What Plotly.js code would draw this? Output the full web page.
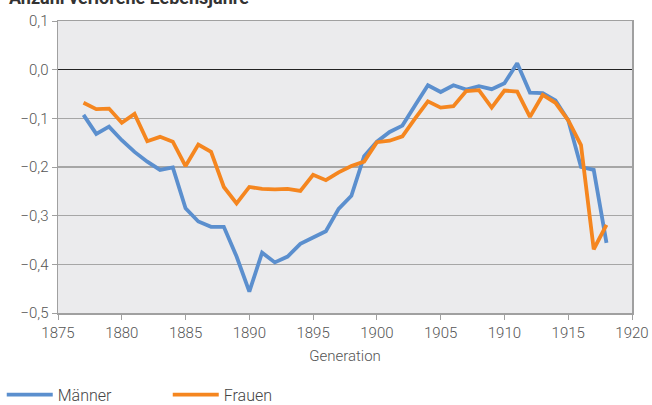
<!DOCTYPE html>
<html>
<head>
<meta charset="utf-8">
<script src="https://cdn.plot.ly/plotly-3.0.1.min.js"></script>
<style>html,body{margin:0;padding:0;background:#fff;}#chart{width:652px;height:405px;}</style>
</head>
<body>
<div id="chart"></div>
<script>
const years = [1877,1878,1879,1880,1881,1882,1883,1884,1885,1886,1887,1888,1889,1890,1891,1892,1893,1894,1895,1896,1897,1898,1899,1900,1901,1902,1903,1904,1905,1906,1907,1908,1909,1910,1911,1912,1913,1914,1915,1916,1917,1918];
const maenner = [-0.093,-0.132,-0.117,-0.145,-0.169,-0.189,-0.206,-0.201,-0.285,-0.312,-0.323,-0.323,-0.384,-0.456,-0.376,-0.396,-0.384,-0.358,-0.345,-0.332,-0.286,-0.259,-0.178,-0.148,-0.128,-0.115,-0.073,-0.032,-0.046,-0.032,-0.041,-0.034,-0.040,-0.028,0.013,-0.047,-0.048,-0.063,-0.104,-0.200,-0.206,-0.356];
const frauen = [-0.068,-0.081,-0.080,-0.109,-0.091,-0.147,-0.138,-0.148,-0.198,-0.154,-0.169,-0.241,-0.275,-0.241,-0.245,-0.246,-0.245,-0.249,-0.216,-0.227,-0.211,-0.198,-0.189,-0.149,-0.146,-0.137,-0.100,-0.065,-0.078,-0.075,-0.044,-0.042,-0.078,-0.043,-0.045,-0.097,-0.052,-0.068,-0.104,-0.155,-0.369,-0.319];
const seriesNames = ["Männer","Frauen"];
const titleText = "Anzahl verlorene Lebensjahre";
const xTitle = "Generation";

const font = {family:"Roboto, sans-serif", size:15, color:"#555555", weight:300};
const data = [
  {x:years, y:maenner, name:seriesNames[0], type:"scatter", mode:"lines", line:{color:"#5B8FCE", width:3.8}},
  {x:years, y:frauen, name:seriesNames[1], type:"scatter", mode:"lines", line:{color:"#F5861F", width:3.8}}
];
const layout = {
  width:652, height:405,
  margin:{l:58, r:20, t:21, b:92, autoexpand:false},
  paper_bgcolor:"#ffffff", plot_bgcolor:"#EBEBED",
  font:font,
  separators:",.",
  showlegend:true,
  legend:{orientation:"h", x:-0.098, xanchor:"left", y:-0.28, yanchor:"middle", itemwidth:46, font:{family:"Roboto, sans-serif", size:16, color:"#444", weight:300}, entrywidth:105, entrywidthmode:"pixels", traceorder:"normal"},
  xaxis:{range:[1875,1920], dtick:5, tick0:1875, automargin:false, showgrid:false, zeroline:false, showline:true, linecolor:"#A0A0A0", linewidth:1.5, mirror:true, ticks:"outside", ticklen:5, tickcolor:"#A0A0A0", tickfont:font,
    title:{text:xTitle, font:font, standoff:10}},
  yaxis:{range:[-0.5,0.1], dtick:0.1, tickformat:".1f", automargin:false, showgrid:true, gridcolor:"#A6A6A6", gridwidth:1.3, zeroline:true, zerolinecolor:"#222222", zerolinewidth:1.5, showline:true, linecolor:"#A0A0A0", linewidth:1.5, mirror:true, ticks:"outside", ticklen:5, tickcolor:"#A0A0A0", tickfont:font},
  annotations:[{text:"<b>"+titleText+"</b>", xref:"paper", yref:"paper", x:-0.088, xanchor:"left", y:1.038, yanchor:"bottom", showarrow:false, font:{family:"Roboto, sans-serif", size:18, color:"#333"}}]
};
Plotly.newPlot("chart", data, layout, {displayModeBar:false, staticPlot:true});
</script>
</body>
</html>
